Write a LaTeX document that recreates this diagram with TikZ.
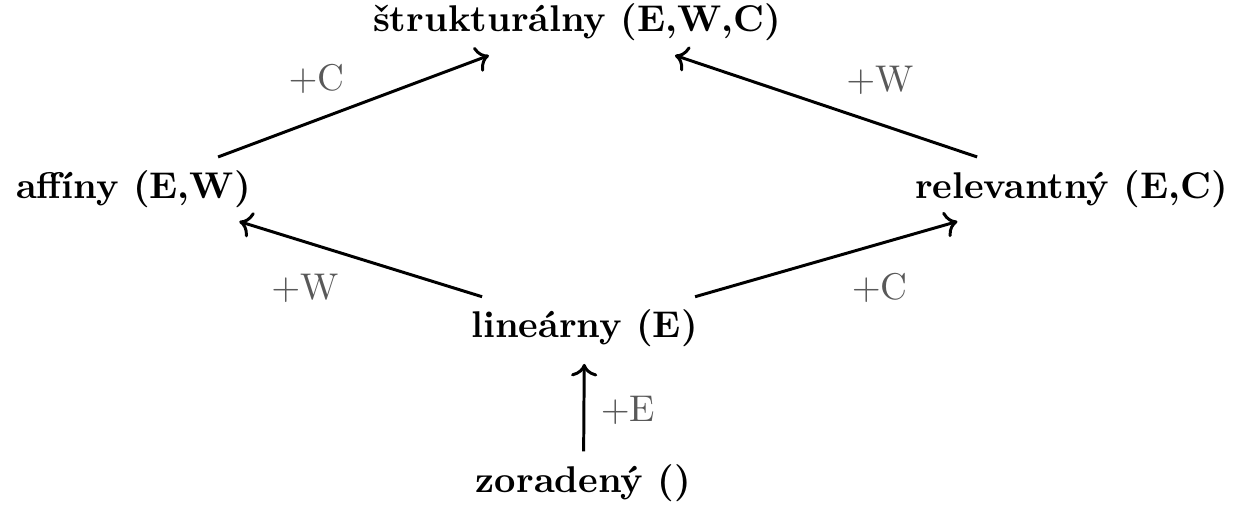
\documentclass[tikz,border=0pt]{standalone}
\usepackage{fontspec}
\usetikzlibrary{arrows.meta}

\begin{document}
\begin{tikzpicture}[
    lattice/.style={font=\bfseries, anchor=base},
    rule/.style={text=black!65},
    arr/.style={->, thick, shorten >=1pt}
]
    \useasboundingbox (0,0) rectangle (11.73,4.78);

    % the five systems
    \node[lattice] (top) at (5.45,4.48) {štrukturálny (E,W,C)};
    \node[lattice] (affine) at (1.26,2.91) {affíny (E,W)};
    \node[lattice] (relevant) at (10.12,2.91) {relevantný (E,C)};
    \node[lattice] (linear) at (5.52,1.59) {lineárny (E)};
    \node[lattice] (ordered) at (5.51,0.13) {zoradený ()};

    % structural rules added
    \draw[arr] (affine) -- (top);
    \draw[arr] (relevant) -- (top);
    \draw[arr] (linear) -- (affine);
    \draw[arr] (linear) -- (relevant);
    \draw[arr] (ordered) -- (linear);

    % labels
    \node[rule] (addC1) at (2.99,4.03) {$+$C};
    \node[rule] (addW1) at (8.31,4.02) {$+$W};
    \node[rule] (addW2) at (2.88,2.06) {$+$W};
    \node[rule] (addC2) at (8.31,2.06) {$+$C};
    \node[rule] (addE) at (5.93,0.90) {$+$E};
\end{tikzpicture}
\end{document}
